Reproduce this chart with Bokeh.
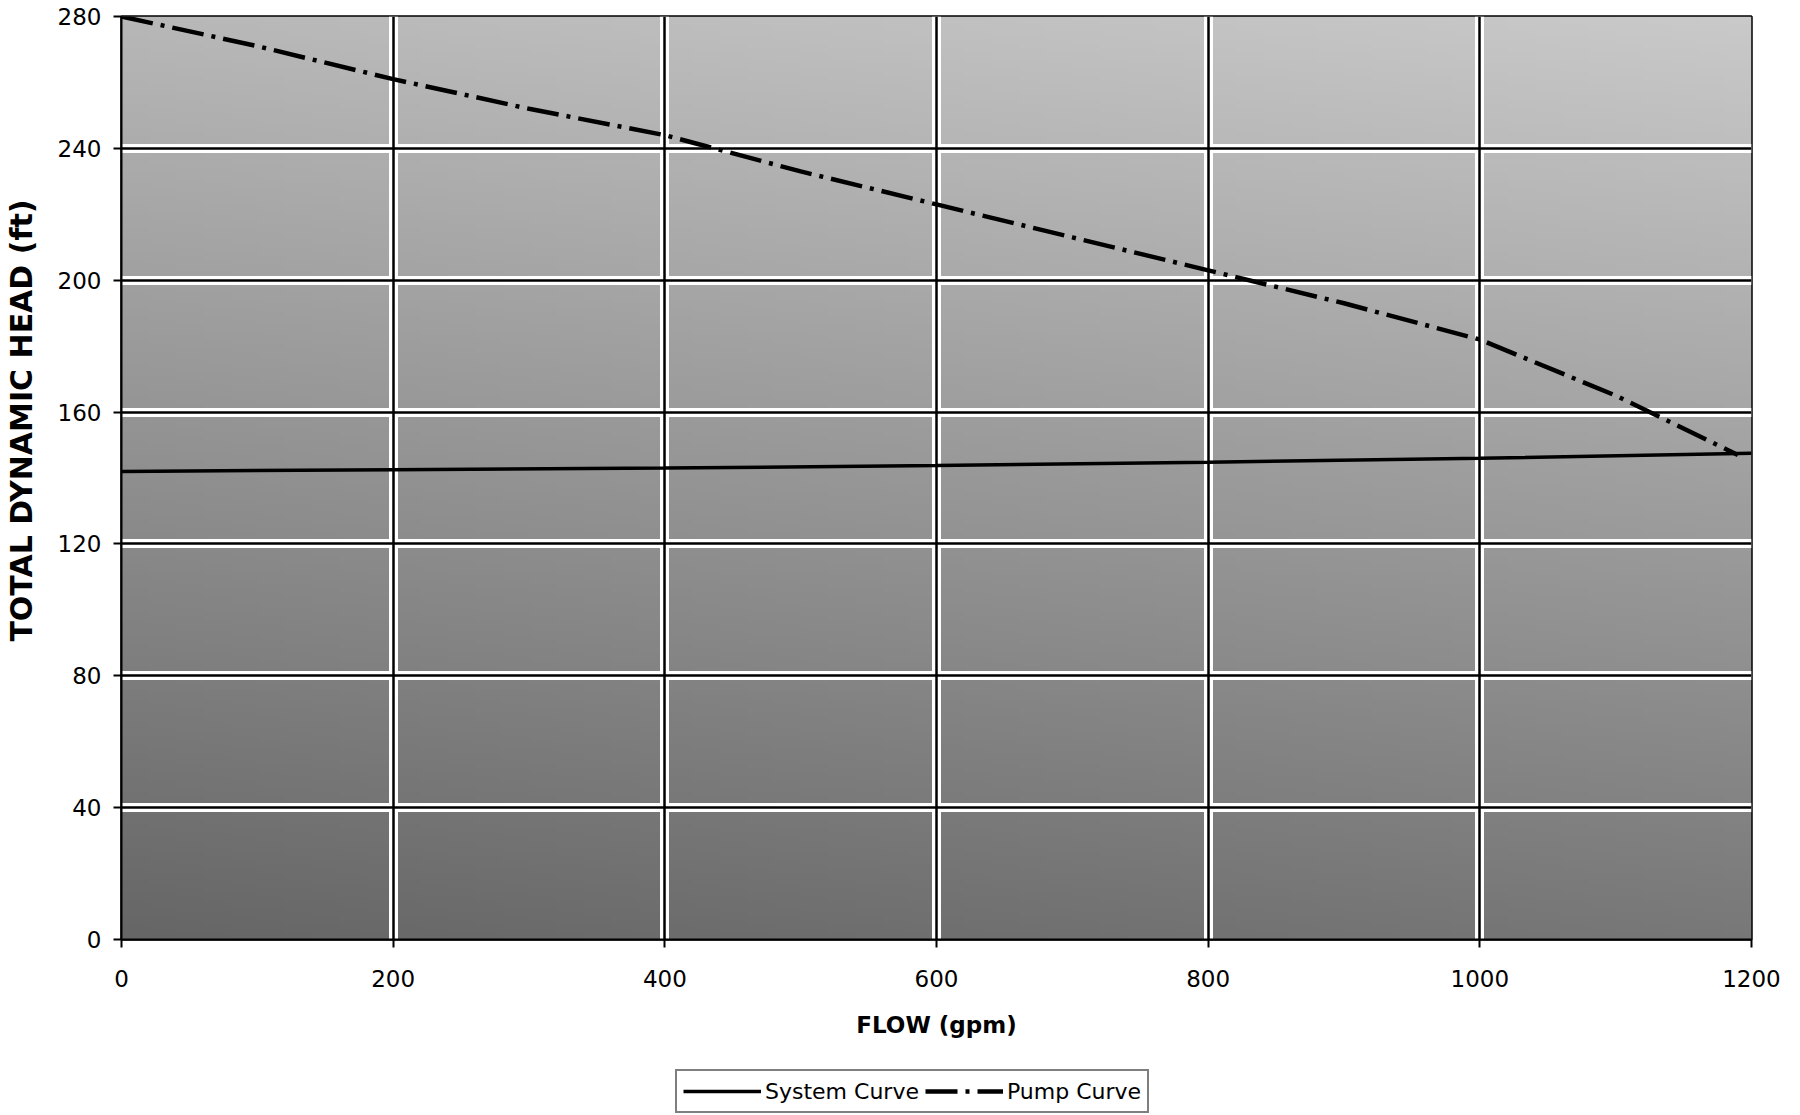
import numpy as np
from bokeh.plotting import figure
from bokeh.layouts import column
from bokeh.models import Legend, LegendItem, Grid, FixedTicker, Range1d
from bokeh.embed import file_html
from bokeh.resources import INLINE

# ---- data ----
flow = [0, 200, 400, 600, 800, 1000, 1200]
system_head = [142, 142.5, 143, 143.8, 144.8, 146, 147.5]

pump_flow = [0, 100, 200, 300, 400, 500, 600, 700, 800, 900, 1000, 1100, 1190]
pump_head = [280, 271, 261, 252, 244, 233, 223, 213, 203, 193, 182, 165, 147]

x_ticks = [0, 200, 400, 600, 800, 1000, 1200]
y_ticks = [0, 40, 80, 120, 160, 200, 240, 280]

series_labels = ["System Curve", "Pump Curve"]

FONT = "DejaVu Sans"
SYS_STYLE = dict(line_color="black", line_width=3.5)
PUMP_STYLE = dict(line_color="black", line_width=4.5, line_dash="32 8 4 8")

p = figure(width=1791, height=1062, output_backend="svg",
           toolbar_location=None, x_range=Range1d(0, 1200), y_range=Range1d(0, 280),
           min_border_left=119, min_border_top=16, min_border_right=40,
           min_border_bottom=123, background_fill_color="white",
           border_fill_color="white")

# plot-area shading (scan texture approximated by a grey gradient)
ny, nx = 200, 60
yy = np.linspace(0, 1, ny)[:, None]
xx = np.linspace(0, 1, nx)[None, :]
shade = np.clip(0.40 + 0.32 * yy + 0.07 * xx, 0, 1)
g = (shade * 255).astype(np.uint8)
rgba = np.dstack([g, g, g, np.full_like(g, 255)]).view(np.uint32).reshape(ny, nx)
p.image_rgba(image=[rgba], x=0, y=0, dw=1200, dh=280, level="image")

# white halos around grid lines, then black grid lines
p.xgrid.ticker = FixedTicker(ticks=x_ticks)
p.ygrid.ticker = FixedTicker(ticks=y_ticks)
p.xgrid.grid_line_color = "white"
p.ygrid.grid_line_color = "white"
p.xgrid.grid_line_width = 9
p.ygrid.grid_line_width = 9

gx = Grid(dimension=0, ticker=FixedTicker(ticks=x_ticks), grid_line_color="black",
          grid_line_width=2.5, level="underlay")
gy = Grid(dimension=1, ticker=FixedTicker(ticks=y_ticks), grid_line_color="black",
          grid_line_width=2.5, level="underlay")
p.add_layout(gx)
p.add_layout(gy)

p.line(flow, system_head, **SYS_STYLE)
p.line(pump_flow, pump_head, **PUMP_STYLE)

# axes
for ax in (p.xaxis[0], p.yaxis[0]):
    ax.axis_line_color = "black"
    ax.axis_line_width = 2
    ax.major_tick_line_color = "black"
    ax.major_tick_line_width = 2
    ax.major_tick_out = 8
    ax.major_tick_in = 0
    ax.minor_tick_line_color = None
    ax.major_label_text_font = FONT
    ax.major_label_text_font_size = "23px"
    ax.major_label_text_color = "black"
    ax.axis_label_text_font = FONT
    ax.axis_label_text_font_style = "bold"
    ax.axis_label_text_color = "black"

p.xaxis.axis_label_text_font_size = "23px"
p.yaxis.axis_label_text_font_size = "30px"
p.xaxis.ticker = FixedTicker(ticks=x_ticks)
p.yaxis.ticker = FixedTicker(ticks=y_ticks)
p.xaxis.axis_label = "FLOW (gpm)"
p.yaxis.axis_label = "\u00a0" * 11 + "TOTAL DYNAMIC HEAD (ft)"
p.xaxis.major_label_standoff = 22
p.xaxis.axis_label_standoff = 22
p.yaxis.major_label_standoff = 12
p.yaxis.axis_label_standoff = 16

p.outline_line_color = "black"
p.outline_line_width = 2.5
p.outline_line_alpha = 1

# ---- legend strip below the chart ----
# the series are drawn again here only to give the legend its glyphs;
# they fall outside this strip's ranges and are clipped away.
leg = figure(width=1791, height=52, output_backend="svg", toolbar_location=None,
             x_range=Range1d(0, 1), y_range=Range1d(0, 1),
             min_border_left=119, min_border_right=40, min_border_top=0,
             min_border_bottom=0, background_fill_color=None,
             border_fill_color="white", outline_line_color=None)
leg.axis.visible = False
leg.grid.visible = False
r1 = leg.line(flow, system_head, **SYS_STYLE)
r2 = leg.line(pump_flow, pump_head, **PUMP_STYLE)

legend = Legend(items=[LegendItem(label=series_labels[0], renderers=[r1]),
                       LegendItem(label=series_labels[1], renderers=[r2])],
                orientation="horizontal", location=(554, 1),
                label_text_font=FONT, label_text_font_size="22px",
                label_text_color="black",
                border_line_color="black", border_line_width=2,
                background_fill_color="white", background_fill_alpha=1,
                glyph_width=78, label_standoff=4, spacing=6,
                padding=6, margin=0, label_height=28, glyph_height=28)
leg.add_layout(legend, "center")

layout = column(p, leg, spacing=0)
open("out.html", "w").write(file_html(layout, INLINE))
